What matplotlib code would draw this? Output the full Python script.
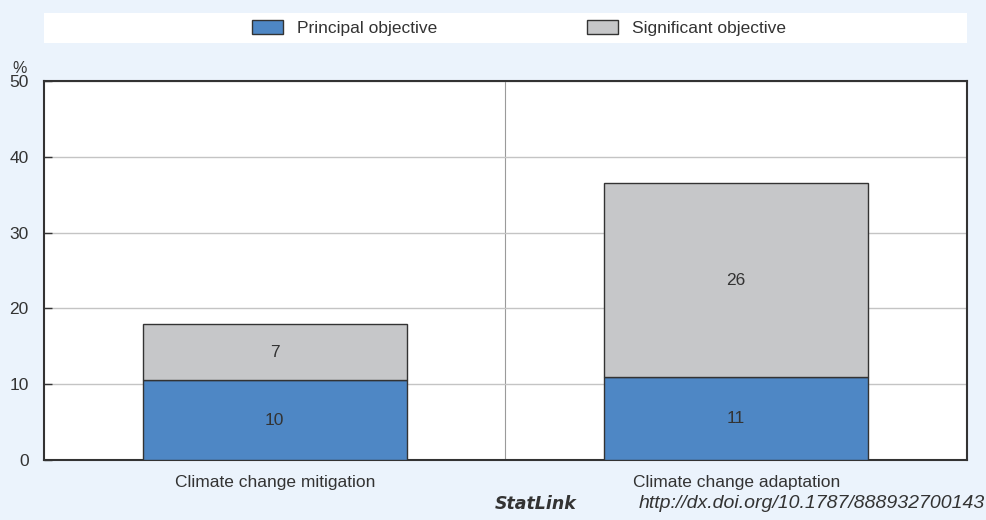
import matplotlib.pyplot as plt
from matplotlib.patches import Rectangle

# Data (% of aid)
categories = ['Climate change mitigation', 'Climate change adaptation']
principal = [10.5, 10.9]
significant = [7.4, 25.6]
principal_labels = ['10', '11']
significant_labels = ['7', '26']
yticks = [0, 10, 20, 30, 40, 50]

bg = '#EBF3FC'
blue = '#4E87C5'
grey = '#C6C7C9'
text_col = '#333333'
fs = 12.5

plt.rcParams['font.family'] = ['Liberation Sans', 'DejaVu Sans']
plt.rcParams['font.size'] = fs
plt.rcParams['text.color'] = text_col

fig = plt.figure(figsize=(9.87, 5.2), dpi=100, facecolor=bg)
ax = fig.add_axes([0.0446, 0.1154, 0.9351, 0.7288])
ax.set_facecolor('white')

x = range(len(categories))
b1 = ax.bar(x, principal, width=0.572, color=blue, edgecolor='#333333', linewidth=1,
            label='Principal objective', zorder=3)
b2 = ax.bar(x, significant, width=0.572, bottom=principal, color=grey, edgecolor='#333333',
            linewidth=1, label='Significant objective', zorder=3)

ax.bar_label(b1, labels=principal_labels, label_type='center', color=text_col, fontsize=fs)
ax.bar_label(b2, labels=significant_labels, label_type='center', color=text_col, fontsize=fs)

ax.set_xlim(-0.5, len(categories) - 0.5)
ax.set_ylim(0, 50)
ax.set_yticks(yticks)
ax.yaxis.grid(True, color='#C4C4C4', linewidth=1, zorder=0)
ax.axvline(0.5, color='#9A9A9A', linewidth=0.8, zorder=1)

ax.set_xticks(list(x))
ax.set_xticklabels(categories)
ax.tick_params(axis='x', length=0, pad=11, labelsize=fs, colors=text_col)
ax.tick_params(axis='y', direction='in', length=6, width=1, color='#333333',
               labelsize=fs, labelcolor=text_col, pad=11)

for sp in ax.spines.values():
    sp.set_color('#333333')
    sp.set_linewidth(1.5)

ax.text(-0.026, 1.032, '%', transform=ax.transAxes, ha='center', va='center', fontsize=fs - 1)

# legend strip
fig.patches.append(Rectangle((0.0446, 1 - 43 / 520), 0.9351, 30 / 520, transform=fig.transFigure,
                             facecolor='white', edgecolor='none', zorder=0))
leg = fig.legend(handles=[b1, b2], loc='center', bbox_to_anchor=(0.526, 1 - 28 / 520), ncol=2,
                 frameon=False, handlelength=1.8, handleheight=0.86, handletextpad=0.8,
                 columnspacing=8.6, fontsize=fs)

# StatLink footer
fig.text(0.5015, 0.031, 'StatLink', ha='left', va='center', fontsize=12.5, style='italic',
         fontweight='bold', family=['DejaVu Sans'])
fig.text(0.998, 0.031, 'http://dx.doi.org/10.1787/888932700143', ha='right', va='center',
         fontsize=14, style='italic')

fig.savefig('out.png', dpi=100, facecolor=bg)
